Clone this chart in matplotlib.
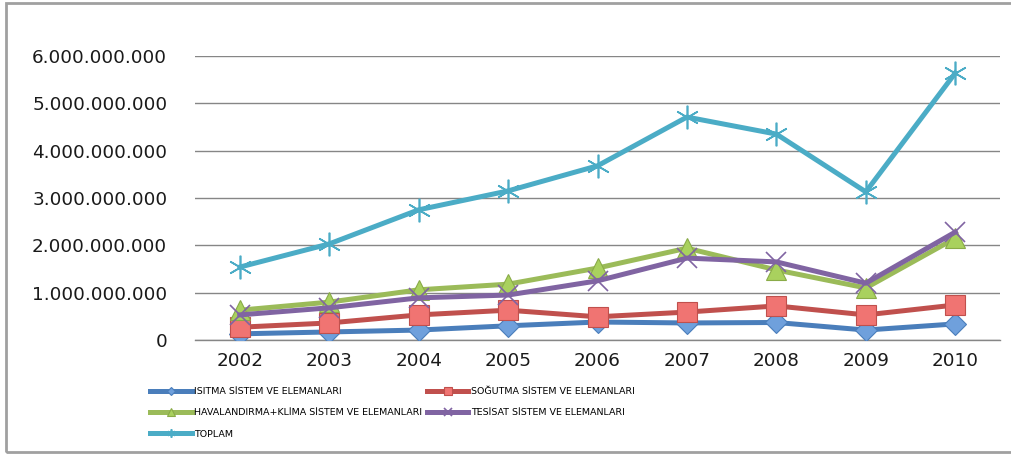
import matplotlib
matplotlib.use("Agg")
import matplotlib.pyplot as plt
from matplotlib.patches import Rectangle
from matplotlib.ticker import FuncFormatter

years = ["2002", "2003", "2004", "2005", "2006", "2007", "2008", "2009", "2010"]

isitma = [0.13e9, 0.17e9, 0.21e9, 0.30e9, 0.38e9, 0.36e9, 0.37e9, 0.21e9, 0.34e9]
sogutma = [0.27e9, 0.36e9, 0.53e9, 0.63e9, 0.49e9, 0.59e9, 0.72e9, 0.53e9, 0.74e9]
havalandirma = [0.63e9, 0.80e9, 1.06e9, 1.18e9, 1.52e9, 1.94e9, 1.48e9, 1.10e9, 2.15e9]
tesisat = [0.53e9, 0.68e9, 0.89e9, 0.95e9, 1.25e9, 1.73e9, 1.65e9, 1.20e9, 2.28e9]
toplam = [1.54e9, 2.03e9, 2.75e9, 3.15e9, 3.68e9, 4.71e9, 4.35e9, 3.13e9, 5.64e9]

labels = ["ISITMA SİSTEM VE ELEMANLARI", "SOĞUTMA SİSTEM VE ELEMANLARI",
          "HAVALANDIRMA+KLİMA SİSTEM VE ELEMANLARI", "TESİSAT SİSTEM VE ELEMANLARI",
          "TOPLAM"]

fig = plt.figure(figsize=(10.11, 4.55), dpi=100)
ax = fig.add_axes([195 / 1011, 1 - 340 / 455, 805 / 1011, 284 / 455])

x = range(len(years))
lw = 3.6
h1, = ax.plot(x, isitma, color="#4a7ebb", lw=lw, marker="D", ms=11,
              mfc="#6fa0dc", mec="#4a7ebb", mew=0.8, zorder=3)
h2, = ax.plot(x, sogutma, color="#c0504d", lw=lw, marker="s", ms=15,
              mfc="#f07472", mec="#c0504d", mew=0.8, zorder=3)
h3, = ax.plot(x, havalandirma, color="#9bbb59", lw=lw, marker="^", ms=15,
              mfc="#a9d15e", mec="#8aab48", mew=0.8, zorder=3)
h4, = ax.plot(x, tesisat, color="#8064a2", lw=lw, marker="x", ms=15,
              mec="#8064a2", mew=1.2, zorder=4)
h5, = ax.plot(x, toplam, color="#4bacc6", lw=lw, marker=(6, 2, 0), ms=17,
              mec="#4bacc6", mew=1.2, zorder=3)

ax.set_xlim(-0.5, len(years) - 0.5)
ax.set_ylim(0, 6e9)
ax.set_yticks([i * 1e9 for i in range(7)])
ax.yaxis.set_major_formatter(FuncFormatter(lambda v, p: f"{int(v):,}".replace(",", ".")))
ax.set_xticks(list(x))
ax.set_xticklabels(years)
ax.tick_params(axis="y", length=0, pad=20, labelsize=13.2, labelcolor="#1a1a1a")
ax.tick_params(axis="x", length=0, pad=9, labelsize=13.2, labelcolor="#1a1a1a")
ax.grid(axis="y", color="#868686", lw=1)
ax.set_axisbelow(True)
for s in ["top", "right", "left"]:
    ax.spines[s].set_visible(False)
ax.spines["bottom"].set_color("#868686")
ax.spines["bottom"].set_linewidth(1)

handles = [h1, h3, h5, h2, h4]
leg_labels = [labels[0], labels[2], labels[4], labels[1], labels[3]]
fig.legend(handles, leg_labels, loc="upper left", bbox_to_anchor=(150 / 1011, 1 - 387 / 455),
           ncol=2, frameon=False, fontsize=6.8, handlelength=4.4, handletextpad=0.25,
           columnspacing=0.5, labelspacing=1.3, markerscale=0.35, borderpad=0,
           borderaxespad=0)

fig.patches.append(Rectangle((6 / 1011, 3 / 455), 1.2, 449 / 455, transform=fig.transFigure,
                             fill=False, edgecolor="#a0a0a0", lw=2))

fig.savefig("out.png", dpi=100)
